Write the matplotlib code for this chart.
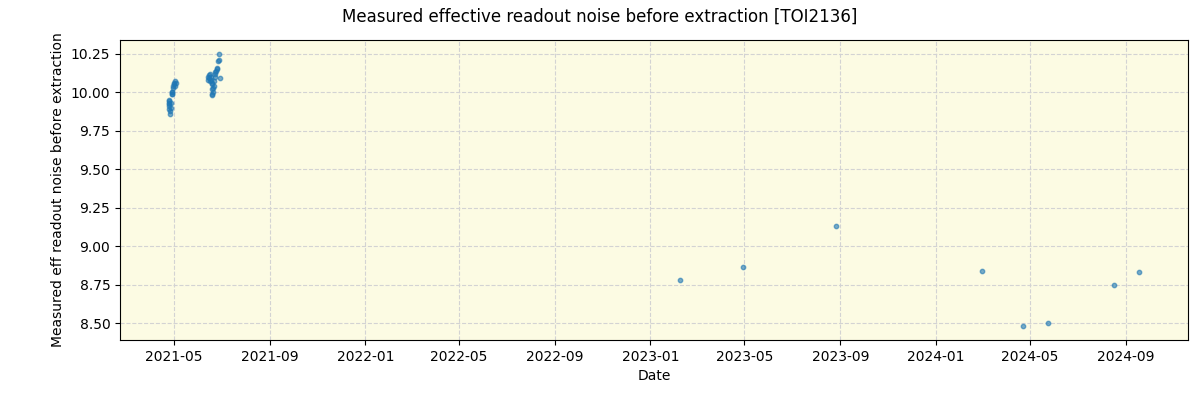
import matplotlib
matplotlib.use('Agg')
import matplotlib.pyplot as plt
import matplotlib.dates as mdates
import pandas as pd

# Datos
fechas_1 = ['2021-04-24', '2021-04-24', '2021-04-24', '2021-04-25', '2021-04-25',
            '2021-04-25', '2021-04-26', '2021-04-26', '2021-04-27', '2021-04-27',
            '2021-04-28', '2021-04-28', '2021-04-29', '2021-04-29', '2021-04-30',
            '2021-04-30', '2021-05-01', '2021-05-01', '2021-05-02', '2021-05-02',
            '2021-05-03']
ruido_1 = [9.94, 9.93, 9.92, 9.95, 9.91, 9.89, 9.88, 9.86, 9.90, 9.93,
           9.99, 10.00, 10.00, 9.99, 10.03, 10.04, 10.05, 10.06, 10.04, 10.07,
           10.06]

fechas_2 = ['2021-06-14', '2021-06-14', '2021-06-15', '2021-06-15', '2021-06-16',
            '2021-06-16', '2021-06-17', '2021-06-17', '2021-06-18', '2021-06-18',
            '2021-06-19', '2021-06-19', '2021-06-19', '2021-06-20', '2021-06-20',
            '2021-06-21', '2021-06-21', '2021-06-22', '2021-06-23', '2021-06-23',
            '2021-06-24', '2021-06-25', '2021-06-25', '2021-06-26', '2021-06-27',
            '2021-06-28', '2021-06-29']
ruido_2 = [10.08, 10.10, 10.09, 10.11, 10.07, 10.12, 10.10, 10.08, 10.06, 10.05,
           10.02, 9.99, 9.98, 10.00, 10.03, 10.04, 10.07, 10.10, 10.13, 10.12,
           10.14, 10.15, 10.16, 10.20, 10.21, 10.25, 10.09]

fechas_3 = ['2023-02-08', '2023-04-30', '2023-08-26', '2024-02-29', '2024-04-22',
            '2024-05-24', '2024-08-17', '2024-09-18']
ruido_3 = [8.78, 8.865, 9.13, 8.84, 8.48, 8.50, 8.747, 8.832]

fechas = pd.to_datetime(fechas_1 + fechas_2 + fechas_3)
ruido = ruido_1 + ruido_2 + ruido_3

fig, ax = plt.subplots(figsize=(12, 4), dpi=100)
fig.suptitle('Measured effective readout noise before extraction [TOI2136]')
ax.set_facecolor('#fcfbe3')
ax.scatter(fechas, ruido, s=10, color='tab:blue', alpha=0.6)
ax.grid(True, linestyle='--', color='lightgray')
ax.set_axisbelow(True)
ax.xaxis.set_major_locator(mdates.MonthLocator(bymonth=[1, 5, 9]))
ax.xaxis.set_major_formatter(mdates.DateFormatter('%Y-%m'))
ax.set_xlabel('Date')
ax.set_ylabel('Measured eff readout noise before extraction')
plt.subplots_adjust(left=0.1, right=0.99, top=0.9, bottom=0.15)

plt.savefig('out.png')
